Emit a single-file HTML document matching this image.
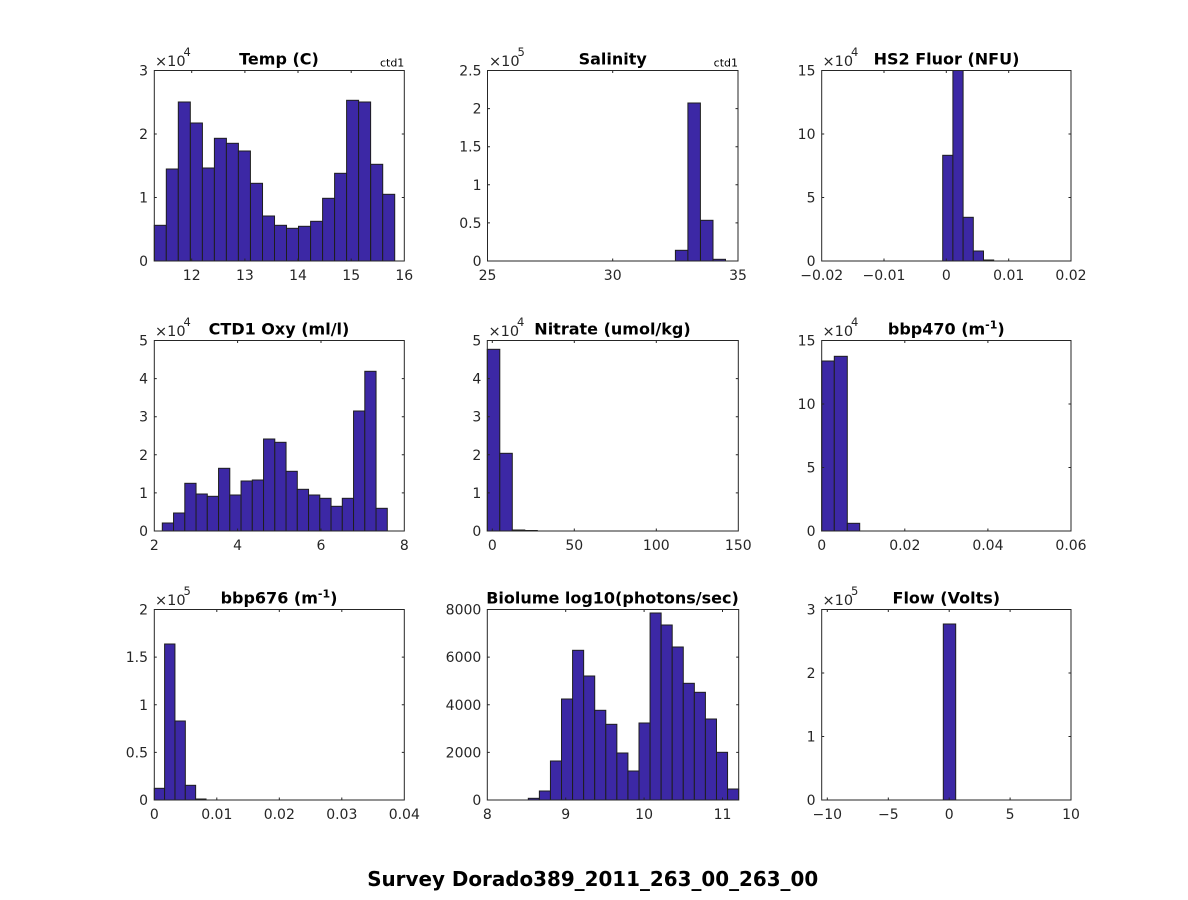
<!DOCTYPE html>
<html><head><meta charset="utf-8"><style>
html,body{margin:0;padding:0;background:#fff;}
svg{display:block;}
text{font-family:"DejaVu Sans","Liberation Sans",sans-serif;}
.t{font-size:14px;fill:#262626;}
.ye{text-anchor:end;}
.xm{text-anchor:middle;}
.ti{font-size:16px;font-weight:bold;fill:#000;text-anchor:middle;}
.ex{font-size:14.5px;fill:#262626;}
.sup{font-size:11.5px;fill:#262626;}
.bar rect{fill:#3c28a5;stroke:#1e1e1e;stroke-width:1;}
.ax{fill:none;stroke:#262626;stroke-width:1;}
</style></head><body>
<svg width="1188" height="900" viewBox="0 0 1188 900" xmlns="http://www.w3.org/2000/svg">
<rect width="1188" height="900" fill="#fff"/>

<!-- P1 Temp -->
<g class="bar">
<rect x="154.3" y="225.3" width="12.02" height="35.7"/>
<rect x="166.3" y="169" width="12.02" height="92"/>
<rect x="178.3" y="102" width="12.02" height="159"/>
<rect x="190.4" y="123" width="12.02" height="138"/>
<rect x="202.4" y="168" width="12.02" height="93"/>
<rect x="214.4" y="138.3" width="12.02" height="122.7"/>
<rect x="226.4" y="143.3" width="12.02" height="117.7"/>
<rect x="238.4" y="151" width="12.02" height="110"/>
<rect x="250.5" y="183.3" width="12.02" height="77.7"/>
<rect x="262.5" y="216" width="12.02" height="45"/>
<rect x="274.5" y="225.3" width="12.02" height="35.7"/>
<rect x="286.5" y="228.3" width="12.02" height="32.7"/>
<rect x="298.5" y="226.3" width="12.02" height="34.7"/>
<rect x="310.6" y="221.3" width="12.02" height="39.7"/>
<rect x="322.6" y="198.3" width="12.02" height="62.7"/>
<rect x="334.6" y="173.3" width="12.02" height="87.7"/>
<rect x="346.6" y="100.3" width="12.02" height="160.7"/>
<rect x="358.6" y="102" width="12.02" height="159"/>
<rect x="370.7" y="164.3" width="12.02" height="96.7"/>
<rect x="382.7" y="194.3" width="12.02" height="66.7"/>
</g>
<rect class="ax" x="154.3" y="70.5" width="250" height="190.5"/>
<path class="ax" d="M191.7 261v-2.5M244.9 261v-2.5M298 261v-2.5M351.2 261v-2.5M191.7 70.5v2.5M244.9 70.5v2.5M298 70.5v2.5M351.2 70.5v2.5M154.3 197.5h2.5M154.3 134h2.5M404.3 197.5h-2.5M404.3 134h-2.5"/>
<g class="t xm"><text x="191.7" y="280">12</text><text x="244.9" y="280">13</text><text x="298" y="280">14</text><text x="351.2" y="280">15</text><text x="404.3" y="280">16</text></g>
<g class="t ye"><text x="148" y="266">0</text><text x="148" y="202.5">1</text><text x="148" y="139">2</text><text x="148" y="75.5">3</text></g>
<text class="ex" x="155" y="66">×10</text><text class="sup" x="183.5" y="56">4</text>
<text class="ti" x="279" y="64.5">Temp (C)</text>
<text x="404.3" y="66.5" style="font-size:11px;fill:#000;text-anchor:end">ctd1</text>

<!-- P2 Salinity -->
<g class="bar">
<rect x="675.4" y="250.3" width="12.5" height="10.7"/>
<rect x="687.9" y="103" width="12.5" height="158"/>
<rect x="700.5" y="220.3" width="12.5" height="40.7"/>
<rect x="713" y="259.3" width="12.5" height="1.7"/>
</g>
<rect class="ax" x="487.5" y="70.5" width="250.5" height="190.5"/>
<path class="ax" d="M612.7 261v-2.5M612.7 70.5v2.5M487.5 222.9h2.5M487.5 184.8h2.5M487.5 146.7h2.5M487.5 108.6h2.5M738 222.9h-2.5M738 184.8h-2.5M738 146.7h-2.5M738 108.6h-2.5"/>
<g class="t xm"><text x="487.5" y="280">25</text><text x="612.7" y="280">30</text><text x="738" y="280">35</text></g>
<g class="t ye"><text x="481.5" y="266">0</text><text x="481.5" y="227.9">0.5</text><text x="481.5" y="189.8">1</text><text x="481.5" y="151.7">1.5</text><text x="481.5" y="113.6">2</text><text x="481.5" y="75.5">2.5</text></g>
<text class="ex" x="489" y="66">×10</text><text class="sup" x="517.5" y="56">5</text>
<text class="ti" x="612.7" y="64.5">Salinity</text>
<text x="738" y="66.5" style="font-size:11px;fill:#000;text-anchor:end">ctd1</text>

<!-- P3 HS2 Fluor -->
<g class="bar">
<rect x="942.7" y="155.3" width="10.2" height="105.7"/>
<rect x="952.9" y="70.5" width="10.2" height="190.5"/>
<rect x="963.1" y="217.3" width="10.2" height="43.7"/>
<rect x="973.3" y="251" width="10.2" height="10"/>
<rect x="983.5" y="260" width="10.2" height="1"/>
</g>
<rect class="ax" x="821.7" y="70.5" width="249.3" height="190.5"/>
<path class="ax" d="M884 261v-2.5M946.3 261v-2.5M1008.7 261v-2.5M884 70.5v2.5M946.3 70.5v2.5M1008.7 70.5v2.5M821.7 197.5h2.5M821.7 134h2.5M1071 197.5h-2.5M1071 134h-2.5"/>
<g class="t xm"><text x="821.7" y="280">−0.02</text><text x="884" y="280">−0.01</text><text x="946.3" y="280">0</text><text x="1008.7" y="280">0.01</text><text x="1071" y="280">0.02</text></g>
<g class="t ye"><text x="815.5" y="266">0</text><text x="815.5" y="202.5">5</text><text x="815.5" y="139">10</text><text x="815.5" y="75.5">15</text></g>
<text class="ex" x="822.5" y="66">×10</text><text class="sup" x="851" y="56">4</text>
<text class="ti" x="946.5" y="64.5">HS2 Fluor (NFU)</text>

<!-- P4 CTD1 Oxy -->
<g class="bar">
<rect x="162.3" y="523" width="11.25" height="8"/>
<rect x="173.55" y="513" width="11.25" height="18"/>
<rect x="184.8" y="483.3" width="11.25" height="47.7"/>
<rect x="196.05" y="494" width="11.25" height="37"/>
<rect x="207.3" y="496.3" width="11.25" height="34.7"/>
<rect x="218.55" y="468.3" width="11.25" height="62.7"/>
<rect x="229.8" y="495" width="11.25" height="36"/>
<rect x="241.05" y="481" width="11.25" height="50"/>
<rect x="252.3" y="480" width="11.25" height="51"/>
<rect x="263.55" y="439" width="11.25" height="92"/>
<rect x="274.8" y="442.3" width="11.25" height="88.7"/>
<rect x="286.05" y="471.3" width="11.25" height="59.7"/>
<rect x="297.3" y="489.3" width="11.25" height="41.7"/>
<rect x="308.55" y="495" width="11.25" height="36"/>
<rect x="319.8" y="498.3" width="11.25" height="32.7"/>
<rect x="331.05" y="506.3" width="11.25" height="24.7"/>
<rect x="342.3" y="498.3" width="11.25" height="32.7"/>
<rect x="353.55" y="411" width="11.25" height="120"/>
<rect x="364.8" y="371.3" width="11.25" height="159.7"/>
<rect x="376.05" y="508.3" width="11.25" height="22.7"/>
</g>
<rect class="ax" x="154.3" y="340.5" width="250" height="190.5"/>
<path class="ax" d="M237.6 531v-2.5M321 531v-2.5M237.6 340.5v2.5M321 340.5v2.5M154.3 492.9h2.5M154.3 454.8h2.5M154.3 416.7h2.5M154.3 378.6h2.5M404.3 492.9h-2.5M404.3 454.8h-2.5M404.3 416.7h-2.5M404.3 378.6h-2.5"/>
<g class="t xm"><text x="154.3" y="550">2</text><text x="237.6" y="550">4</text><text x="321" y="550">6</text><text x="404.3" y="550">8</text></g>
<g class="t ye"><text x="148" y="536">0</text><text x="148" y="497.9">1</text><text x="148" y="459.8">2</text><text x="148" y="421.7">3</text><text x="148" y="383.6">4</text><text x="148" y="345.5">5</text></g>
<text class="ex" x="155" y="336">×10</text><text class="sup" x="183.5" y="326">4</text>
<text class="ti" x="279" y="334.5">CTD1 Oxy (ml/l)</text>

<!-- P5 Nitrate -->
<g class="bar">
<rect x="487.3" y="349.3" width="12.5" height="181.7"/>
<rect x="499.8" y="453.3" width="12.5" height="77.7"/>
<rect x="512.3" y="530" width="12.5" height="1"/>
<rect x="524.8" y="530.5" width="12.5" height="0.5"/>
</g>
<rect class="ax" x="487.3" y="340.5" width="251" height="190.5"/>
<path class="ax" d="M492.3 531v-2.5M574.3 531v-2.5M656.3 531v-2.5M492.3 340.5v2.5M574.3 340.5v2.5M656.3 340.5v2.5M487.3 492.9h2.5M487.3 454.8h2.5M487.3 416.7h2.5M487.3 378.6h2.5M738.3 492.9h-2.5M738.3 454.8h-2.5M738.3 416.7h-2.5M738.3 378.6h-2.5"/>
<g class="t xm"><text x="492.3" y="550">0</text><text x="574.3" y="550">50</text><text x="656.3" y="550">100</text><text x="738.3" y="550">150</text></g>
<g class="t ye"><text x="481.3" y="536">0</text><text x="481.3" y="497.9">1</text><text x="481.3" y="459.8">2</text><text x="481.3" y="421.7">3</text><text x="481.3" y="383.6">4</text><text x="481.3" y="345.5">5</text></g>
<text class="ex" x="488.5" y="336">×10</text><text class="sup" x="517" y="326">4</text>
<text class="ti" x="612.5" y="334.5">Nitrate (umol/kg)</text>

<!-- P6 bbp470 -->
<g class="bar">
<rect x="821.7" y="361" width="12.6" height="170"/>
<rect x="834.3" y="356.3" width="13" height="174.7"/>
<rect x="847.3" y="523.3" width="12.4" height="7.7"/>
</g>
<rect class="ax" x="821.7" y="340.5" width="249.3" height="190.5"/>
<path class="ax" d="M904.8 531v-2.5M987.9 531v-2.5M904.8 340.5v2.5M987.9 340.5v2.5M821.7 467.5h2.5M821.7 404h2.5M1071 467.5h-2.5M1071 404h-2.5"/>
<g class="t xm"><text x="821.7" y="550">0</text><text x="904.8" y="550">0.02</text><text x="987.9" y="550">0.04</text><text x="1071" y="550">0.06</text></g>
<g class="t ye"><text x="815.5" y="536">0</text><text x="815.5" y="472.5">5</text><text x="815.5" y="409">10</text><text x="815.5" y="345.5">15</text></g>
<text class="ex" x="822.5" y="336">×10</text><text class="sup" x="851" y="326">4</text>
<text class="ti" x="946.3" y="334.5">bbp470 (m<tspan dy="-6" style="font-size:11px">-1</tspan><tspan dy="6">)</tspan></text>

<!-- P7 bbp676 -->
<g class="bar">
<rect x="154.3" y="788.3" width="10.34" height="11.7"/>
<rect x="164.6" y="644" width="10.34" height="156"/>
<rect x="175" y="721" width="10.34" height="79"/>
<rect x="185.3" y="785.3" width="10.34" height="14.7"/>
<rect x="195.7" y="799" width="10.34" height="1"/>
</g>
<rect class="ax" x="154.3" y="609.5" width="250" height="190.5"/>
<path class="ax" d="M216.8 800v-2.5M279.3 800v-2.5M341.8 800v-2.5M216.8 609.5v2.5M279.3 609.5v2.5M341.8 609.5v2.5M154.3 752.4h2.5M154.3 704.8h2.5M154.3 657.1h2.5M404.3 752.4h-2.5M404.3 704.8h-2.5M404.3 657.1h-2.5"/>
<g class="t xm"><text x="154.3" y="819">0</text><text x="216.8" y="819">0.01</text><text x="279.3" y="819">0.02</text><text x="341.8" y="819">0.03</text><text x="404.3" y="819">0.04</text></g>
<g class="t ye"><text x="148" y="805">0</text><text x="148" y="757.4">0.5</text><text x="148" y="709.8">1</text><text x="148" y="662.1">1.5</text><text x="148" y="614.5">2</text></g>
<text class="ex" x="155" y="605">×10</text><text class="sup" x="183.5" y="595">5</text>
<text class="ti" x="279" y="603.5">bbp676 (m<tspan dy="-6" style="font-size:11px">-1</tspan><tspan dy="6">)</tspan></text>

<!-- P8 Biolume -->
<g class="bar">
<rect x="528.3" y="798.3" width="11.07" height="1.7"/>
<rect x="539.37" y="791" width="11.07" height="9"/>
<rect x="550.44" y="761" width="11.07" height="39"/>
<rect x="561.51" y="699" width="11.07" height="101"/>
<rect x="572.58" y="650.3" width="11.07" height="149.7"/>
<rect x="583.65" y="676" width="11.07" height="124"/>
<rect x="594.72" y="710.3" width="11.07" height="89.7"/>
<rect x="605.79" y="724.3" width="11.07" height="75.7"/>
<rect x="616.86" y="753" width="11.07" height="47"/>
<rect x="627.93" y="771" width="11.07" height="29"/>
<rect x="639" y="723" width="11.07" height="77"/>
<rect x="650.07" y="613" width="11.07" height="187"/>
<rect x="661.14" y="625" width="11.07" height="175"/>
<rect x="672.21" y="647" width="11.07" height="153"/>
<rect x="683.28" y="683.3" width="11.07" height="116.7"/>
<rect x="694.35" y="692.3" width="11.07" height="107.7"/>
<rect x="705.42" y="719" width="11.07" height="81"/>
<rect x="716.49" y="752.3" width="11.07" height="47.7"/>
<rect x="727.56" y="789" width="11.07" height="11"/>
</g>
<rect class="ax" x="487.3" y="609.5" width="251.4" height="190.5"/>
<path class="ax" d="M565.7 800v-2.5M644.1 800v-2.5M722.5 800v-2.5M565.7 609.5v2.5M644.1 609.5v2.5M722.5 609.5v2.5M487.3 752.4h2.5M487.3 704.8h2.5M487.3 657.1h2.5M738.7 752.4h-2.5M738.7 704.8h-2.5M738.7 657.1h-2.5"/>
<g class="t xm"><text x="487.3" y="819">8</text><text x="565.7" y="819">9</text><text x="644.1" y="819">10</text><text x="722.5" y="819">11</text></g>
<g class="t ye"><text x="481.3" y="805">0</text><text x="481.3" y="757.4">2000</text><text x="481.3" y="709.8">4000</text><text x="481.3" y="662.1">6000</text><text x="481.3" y="614.5">8000</text></g>
<text class="ti" x="612.5" y="603.5">Biolume log10(photons/sec)</text>

<!-- P9 Flow -->
<g class="bar">
<rect x="943.3" y="624" width="12.4" height="176"/>
</g>
<rect class="ax" x="821.7" y="609.5" width="249.3" height="190.5"/>
<path class="ax" d="M827.3 800v-2.5M888.3 800v-2.5M949.2 800v-2.5M1010.1 800v-2.5M827.3 609.5v2.5M888.3 609.5v2.5M949.2 609.5v2.5M1010.1 609.5v2.5M821.7 736.5h2.5M821.7 673h2.5M1071 736.5h-2.5M1071 673h-2.5"/>
<g class="t xm"><text x="827.3" y="819">−10</text><text x="888.3" y="819">−5</text><text x="949.2" y="819">0</text><text x="1010.1" y="819">5</text><text x="1071" y="819">10</text></g>
<g class="t ye"><text x="815.5" y="805">0</text><text x="815.5" y="741.5">1</text><text x="815.5" y="678">2</text><text x="815.5" y="614.5">3</text></g>
<text class="ex" x="822.5" y="605">×10</text><text class="sup" x="851" y="595">5</text>
<text class="ti" x="946.3" y="603.5">Flow (Volts)</text>

<!-- Main title -->
<text x="592.7" y="886" style="font-size:20px;font-weight:bold;fill:#000;text-anchor:middle" textLength="451" lengthAdjust="spacingAndGlyphs">Survey Dorado389_2011_263_00_263_00</text>
</svg>
</body></html>
